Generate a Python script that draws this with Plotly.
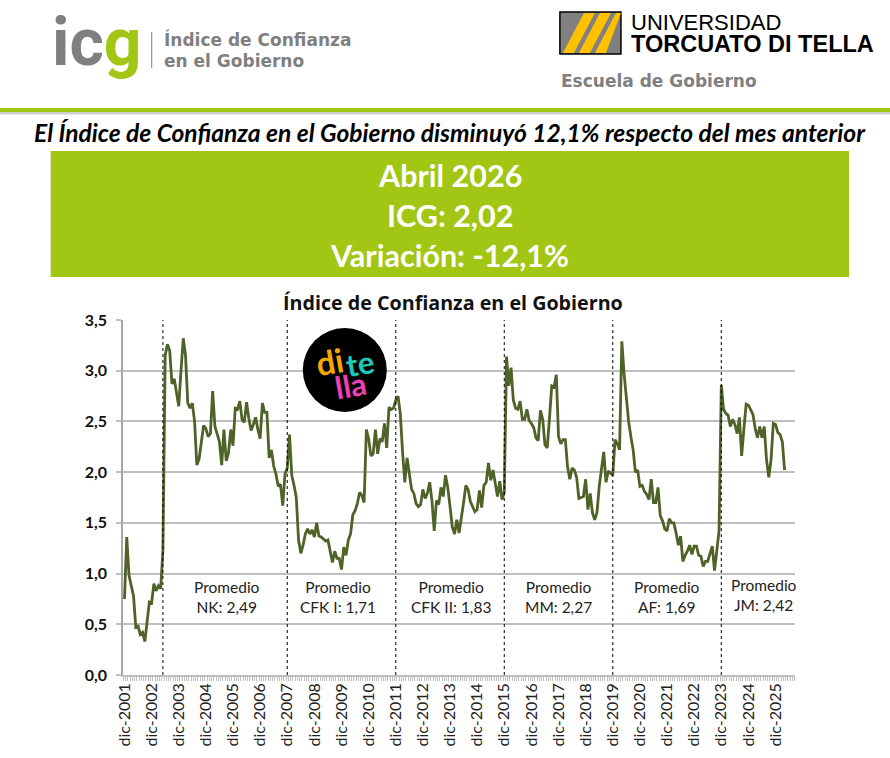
import plotly.graph_objects as go

# Monthly ICG values, dic-2001 onward, grouped by presidential term
pre_nk = [0.75,1.36,0.98,0.87,0.78,0.47,0.48,0.40,0.42,0.33,0.52,0.72,0.71,0.90,0.83,0.88,0.85,1.23]
nk = [3.15,3.26,3.20,2.87,2.92,2.80,2.65,3.00,3.32,3.15,2.68,2.63,2.68,2.50,2.07,
      2.13,2.28,2.46,2.43,2.35,2.38,2.80,2.45,2.36,2.30,2.07,2.42,2.11,2.19,2.42,
      2.26,2.63,2.62,2.70,2.52,2.49,2.69,2.53,2.41,2.47,2.54,2.42,2.33,2.68,2.59,
      2.59,2.14,2.22,2.06,1.98,1.86,1.88,1.67,1.98,2.04]
cfk1 = [2.37,1.97,1.87,1.75,1.33,1.20,1.28,1.39,1.44,1.39,1.43,1.36,1.50,1.37,1.36,1.34,
        1.32,1.33,1.22,1.11,1.22,1.15,1.15,1.04,1.26,1.18,1.33,1.39,1.58,1.62,1.69,1.80,
        1.77,1.70,2.42,2.33,2.16,2.18,2.42,2.18,2.33,2.30,2.48,2.24,2.64,2.62,2.63,2.71]
cfk2 = [2.75,2.58,2.20,1.90,2.14,1.98,1.83,1.79,1.69,1.66,1.68,1.83,1.74,1.79,1.90,1.72,
        1.42,1.72,1.68,1.85,1.76,1.97,1.85,1.66,1.46,1.39,1.53,1.40,1.53,1.70,1.87,1.83,
        1.71,1.66,1.61,1.63,1.82,1.65,1.87,1.90,2.09,1.92,2.02,1.89,1.76,1.91,1.73,1.80]
mm = [3.14,2.85,3.03,2.71,2.63,2.62,2.70,2.52,2.52,2.62,2.51,2.48,2.44,2.34,2.31,2.61,
      2.52,2.27,2.24,2.53,2.85,2.84,2.96,2.35,2.28,2.32,2.32,2.05,1.93,2.04,2.02,1.95,
      1.74,1.75,1.76,1.93,1.63,1.79,1.60,1.53,1.60,1.86,2.03,2.20,1.90,2.01,1.99,1.97]
af = [2.32,2.28,2.22,3.29,2.97,2.74,2.50,2.35,2.22,2.00,2.02,1.86,1.87,1.81,1.78,1.73,
      1.93,1.70,1.70,1.85,1.57,1.52,1.44,1.42,1.54,1.50,1.50,1.40,1.28,1.37,1.12,1.18,
      1.22,1.28,1.19,1.27,1.27,1.18,1.17,1.07,1.12,1.12,1.20,1.27,1.03,1.25,1.42]
jm = [2.86,2.62,2.58,2.56,2.45,2.52,2.47,2.38,2.54,2.16,2.43,2.67,2.66,2.62,2.57,2.43,
      2.34,2.45,2.34,2.45,2.12,1.95,2.12,2.48,2.47,2.39,2.37,2.30,2.02]
series = pre_nk + nk + cfk1 + cfk2 + mm + af + jm
assert len(series) == 293

tick_years = list(range(2001, 2026))
term_starts = [17, 72, 120, 168, 216, 264]
term_labels = ["Promedio<br>NK: 2,49", "Promedio<br>CFK I: 1,71", "Promedio<br>CFK II: 1,83",
               "Promedio<br>MM: 2,27", "Promedio<br>AF: 1,69", "Promedio<br>JM: 2,42"]
term_label_centers = [227, 338, 451, 559, 667, 764]
term_label_tops = [597, 597, 597, 597, 597, 595]

W, H = 890, 758
L, R, T, B = 123.3, 795, 320, 675
def px(x): return (x - L) / (R - L)
def py(y): return (B - y) / (B - T)

GREEN = "#A2C614"
GREY = "#7F7F7F"
fig = go.Figure(go.Scatter(x=list(range(len(series))), y=series, mode="lines",
                           line=dict(color="#4F6228", width=2.8), hoverinfo="skip"))

shapes, notes = [], []
def rect(x0, y0, x1, y1, fill, line=None, width=0):
    shapes.append(dict(type="rect", xref="paper", yref="paper", x0=px(x0), x1=px(x1), y0=py(y0), y1=py(y1),
                       fillcolor=fill, line=dict(color=line or fill, width=width), layer="above"))
def poly(points, fill):
    d = "M " + " L ".join(f"{px(a):.5f},{py(b):.5f}" for a, b in points) + " Z"
    shapes.append(dict(type="path", xref="paper", yref="paper", path=d, fillcolor=fill, line=dict(width=0), layer="above"))
def text(x, y, s, size, color="#000", family="Lato", anchor="center", bold=False, italic=False, angle=0, height=None):
    if bold: s = f"<b>{s}</b>"
    if italic: s = f"<i>{s}</i>"
    note = dict(xref="paper", yref="paper", x=px(x), y=py(y), text=s, showarrow=False, xanchor=anchor,
                yanchor="middle", textangle=angle, font=dict(size=size, color=color, family=family), align="center")
    if height: note["height"] = height
    notes.append(note)

# Header band and green box
rect(0, 112, 890, 114.5, "#D0D0D0")
rect(0, 108, 890, 112, GREEN)
text(450, 132, "El Índice de Confianza en el Gobierno disminuyó 12,1% respecto del mes anterior", 24.6, bold=True, italic=True)
rect(51, 151, 849, 277, GREEN)
text(450, 175, "Abril 2026", 30.5, "#fff", bold=True)
text(450, 215, "ICG: 2,02", 30.5, "#fff", bold=True)
text(450, 255, "Variación: -12,1%", 30.5, "#fff", bold=True)

# ICG logo
text(97, 42, "<span style='color:#7F7F7F'>ic</span><span style='color:#A2C614'>g</span>", 66, bold=True, family="Roboto")
rect(151.5, 32, 152.5, 68, GREY)
text(162, 39, "Índice de Confianza", 17, GREY, "DejaVu Sans", "left", bold=True)
text(162, 61, "en el Gobierno", 17, GREY, "DejaVu Sans", "left", bold=True)

# UTDT logo
rect(560, 12, 621, 54, "#808080", "#000", 1.5)
for a, b, c, d in [(563, 574, 584, 595), (579, 590, 600, 611), (595, 606, 616, 621)]:
    poly([(a, 53), (b, 53), (d, 13), (c, 13)], "#FFC000")
text(629, 22.5, "UNIVERSIDAD", 22, "#000", "Liberation Sans", "left", height=19)
text(629, 43, "TORCUATO DI TELLA", 23.5, "#000", "Liberation Sans", "left", bold=True, height=21)
text(559, 81, "Escuela de Gobierno", 17, GREY, "DejaVu Sans", "left", bold=True)

# Chart title and term labels
text(453, 302, "Índice de Confianza en el Gobierno", 19.7, "#111", "Open Sans", bold=True)
for cx, cy, lab in zip(term_label_centers, term_label_tops, term_labels):
    text(cx, cy, lab, 15.5, "#222")

# Di Tella badge
shapes.append(dict(type="circle", xref="paper", yref="paper", x0=px(303), x1=px(387), y0=py(328), y1=py(412),
                   fillcolor="#000", line=dict(width=0), layer="above"))
text(330, 361, "di", 33, "#F5A800", bold=True, angle=-10)
text(360, 363, "te", 31, "#1CC8B8", bold=True, angle=-10)
text(351, 385, "lla", 31, "#EE3FB4", bold=True, angle=-10)

# Term separators
for s in term_starts:
    shapes.append(dict(type="line", xref="x", yref="y", x0=s, x1=s, y0=0, y1=3.5,
                       line=dict(color="#000", width=1, dash="dot"), layer="above"))

fig.update_layout(
    width=W, height=H, margin=dict(l=L, r=W - R, t=T, b=H - B, pad=0),
    paper_bgcolor="#fff", plot_bgcolor="#fff", showlegend=False, separators=",.",
    shapes=shapes, annotations=notes,
    xaxis=dict(range=[-0.66, 296.6], tickmode="array",
               tickvals=[(y - 2001) * 12 for y in tick_years],
               ticktext=[f"dic-{y}" for y in tick_years],
               tickangle=-90, showgrid=False, zeroline=False, showline=True, linecolor="#BFBFBF", linewidth=1.5,
               ticks="", tickfont=dict(family="Lato", size=16, color="#222"),
               minor=dict(tickmode="linear", tick0=-0.5, dtick=1, ticks="outside", ticklen=4, tickcolor="#BFBFBF", tickwidth=1)),
    yaxis=dict(range=[0, 3.5], dtick=0.5, tickformat=".1f", showgrid=True, gridcolor="#BFBFBF", gridwidth=1.5,
               zeroline=False, showline=True, linecolor="#A6A6A6", linewidth=1.5,
               ticks="outside", ticklen=5, tickcolor="#BFBFBF", tickwidth=1.5, ticklabelstandoff=6,
               tickfont=dict(family="Lato", size=16, color="#111", weight="bold")),
)
fig.write_html("out.html", config={"displayModeBar": False}, post_script="document.body.style.margin='0';")
